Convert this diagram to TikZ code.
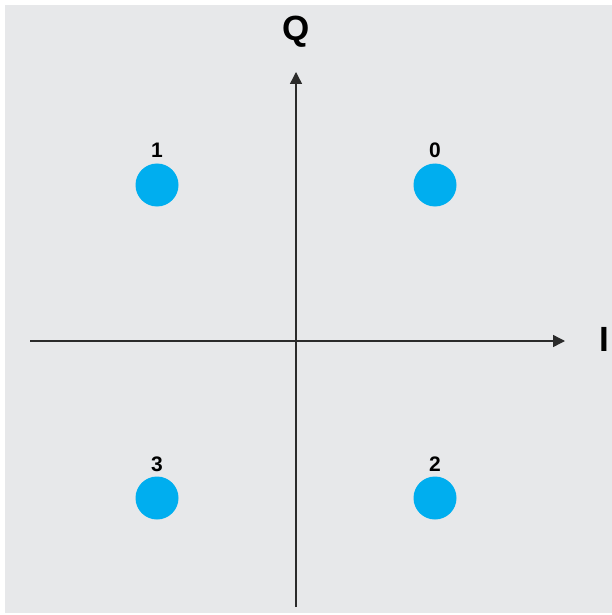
\documentclass[tikz,border=0pt]{standalone}
\usepackage{fontspec}
\setmainfont{Liberation Sans}
\usetikzlibrary{arrows.meta}
\definecolor{bg}{HTML}{E7E8EA}
\definecolor{dot}{HTML}{00AEEF}
\definecolor{axis}{HTML}{2B2B2B}
\tikzset{
  axisline/.style={draw=axis, line width=1.4bp, -{Triangle[length=12bp,width=12bp]}},
  symbol/.style={circle, fill=dot, minimum size=43bp, inner sep=0pt},
  numlabel/.style={font=\bfseries\fontsize{21bp}{21bp}\selectfont, inner sep=0pt},
  axlabel/.style={font=\bfseries\fontsize{35bp}{35bp}\selectfont, inner sep=0pt}
}
\begin{document}
\begin{tikzpicture}[x=1bp,y=-1bp]
\useasboundingbox (0,0) rectangle (612,615);
\fill[bg] (5,5) rectangle (612,613);
\coordinate (xs) at (30,341);
\coordinate (xe) at (565,341);
\coordinate (ys) at (296,607);
\coordinate (ye) at (296,72);
\draw[axisline] (xs) -- (xe);
\draw[axisline] (ys) -- (ye);
\node[axlabel] (Q) at (296,32) {Q};
\node[axlabel] (I) at (604,339) {I};
\node[symbol] (s1) at (157,185) {};
\node[symbol] (s0) at (435,185) {};
\node[symbol] (s3) at (157,498) {};
\node[symbol] (s2) at (435,498) {};
\node[numlabel] (l1) at (157,150) {1};
\node[numlabel] (l0) at (435,150) {0};
\node[numlabel] (l3) at (157,464) {3};
\node[numlabel] (l2) at (435,464) {2};
\end{tikzpicture}
\end{document}
